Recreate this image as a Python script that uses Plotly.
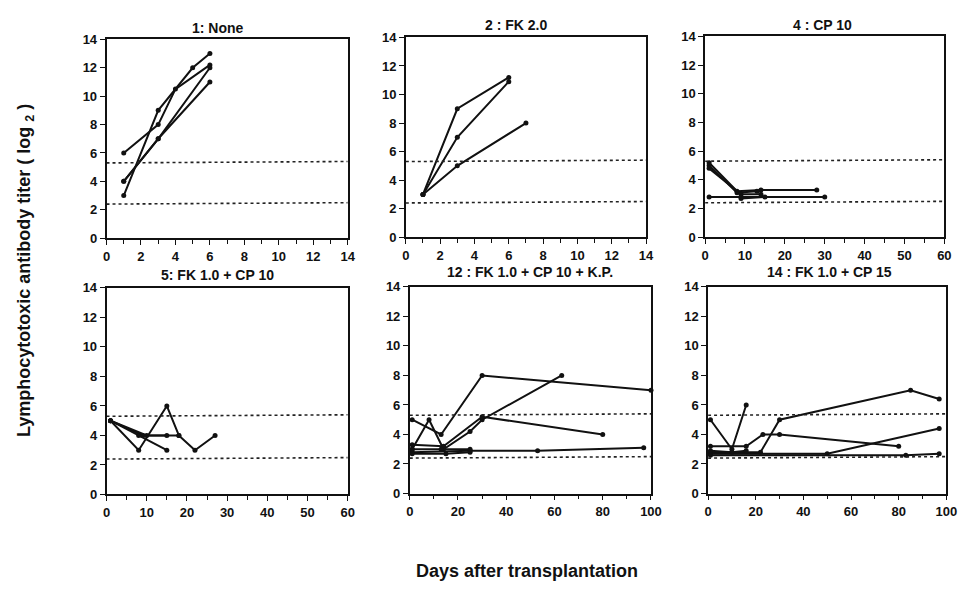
import plotly.graph_objects as go

W, H = 971, 590
OFF = 8  # page body margin offset

titles = ["1: None", "2 : FK 2.0", "4 : CP 10",
          "5: FK 1.0 + CP 10", "12 : FK 1.0 + CP 10 + K.P.", "14 : FK 1.0 + CP 15"]

# panel data: list of series (days, titer)
p1 = [([1, 3, 5, 6], [3, 9, 12, 13]),
      ([1, 3, 4, 6], [6, 8, 10.5, 12.2]),
      ([1, 3, 6], [4, 7, 12]),
      ([1, 3, 6], [4, 7, 11])]
p2 = [([1, 3, 6], [3, 9, 11.2]),
      ([1, 3, 6], [3, 7, 10.9]),
      ([1, 3, 7], [3, 5, 8])]
p3 = [([1, 8, 14, 28], [5.2, 3.2, 3.3, 3.3]),
      ([1, 8, 13], [5.0, 3.1, 3.2]),
      ([1, 9, 14], [4.8, 3.0, 3.0]),
      ([1, 9, 30], [2.8, 2.8, 2.8]),
      ([9, 15], [2.7, 2.8])]
p4 = [([1, 8, 15, 18], [5, 3, 6, 4]),
      ([1, 9, 18, 22, 27], [5, 4, 4, 3, 4]),
      ([1, 8, 15], [5, 4, 3]),
      ([1, 10, 15], [5, 4, 4])]
p5 = [([1, 13, 30, 100], [5, 4, 8, 7]),
      ([1, 8, 14, 25, 30, 63], [3, 5, 3, 4.2, 5, 8]),
      ([1, 14, 30, 80], [3.3, 3.2, 5.2, 4]),
      ([1, 25, 53, 97], [2.8, 2.9, 2.9, 3.1]),
      ([1, 13, 25], [3.0, 3.0, 3.0]),
      ([1, 15, 25], [2.7, 2.7, 2.8])]
p6 = [([1, 10, 16], [5, 3, 6]),
      ([1, 16, 23, 30, 80], [3.2, 3.2, 4, 4, 3.2]),
      ([1, 22, 30, 85, 97], [2.8, 2.8, 5, 7, 6.4]),
      ([1, 50, 97], [2.7, 2.7, 4.4]),
      ([1, 83, 97], [2.6, 2.6, 2.7]),
      ([1, 10, 16], [2.9, 2.8, 2.9])]
panels = [p1, p2, p3, p4, p5, p6]

x_ranges = [(0, 14), (0, 14), (0, 60), (0, 60), (0, 100), (0, 100)]
x_dticks = [2, 2, 10, 10, 20, 20]
upper_ref = [5.3, 5.4]   # dotted reference line (start, end)
lower_ref = [2.4, 2.5]

# pixel boxes on screen (left, right, top, bottom)
boxes = [(104, 349, 33, 237), (408, 652, 31, 236), (712, 955, 30, 236),
         (104, 349, 288, 500), (412, 657, 287, 499), (715, 957, 287, 499)]
title_pos = [(217, 21), (520, 18), (831, 18), (217, 275), (534, 272), (838, 272)]


def px(x):
    return (x - OFF) / W


def py(y):
    return 1 - (y - OFF) / H


FONT = "Liberation Sans"
fig = go.Figure()
layout = {}
for i, (series, box) in enumerate(zip(panels, boxes)):
    n = "" if i == 0 else str(i + 1)
    xa, ya = "x" + n, "y" + n
    l, r, t, b = box
    x0, x1 = x_ranges[i]
    for xs, ys in series:
        fig.add_trace(go.Scatter(x=xs, y=ys, mode="lines+markers", xaxis=xa, yaxis=ya,
                                 line=dict(color="#111", width=2),
                                 marker=dict(color="#111", size=5), showlegend=False,
                                 cliponaxis=False))
    for ref in (upper_ref, lower_ref):
        fig.add_trace(go.Scatter(x=[x0, x1], y=ref, mode="lines", xaxis=xa, yaxis=ya,
                                 line=dict(color="#222", width=1.6, dash="dot"),
                                 showlegend=False, hoverinfo="skip"))
    common = dict(showline=True, linecolor="#111", linewidth=1.6, mirror=True,
                  ticks="outside", ticklen=5, tickwidth=1.4, tickcolor="#111",
                  showgrid=False, zeroline=False,
                  tickfont=dict(family=FONT, size=13, color="#111", weight="bold"))
    layout["xaxis" + n] = dict(common, domain=[px(l), px(r)], range=[x0, x1],
                               dtick=x_dticks[i], anchor=ya,
                               minor=dict(dtick=x_dticks[i] / 2, ticks="outside",
                                          ticklen=4, tickcolor="#111", tickwidth=1.2))
    layout["yaxis" + n] = dict(common, domain=[py(b), py(t)], range=[0, 14],
                               dtick=2, anchor=xa)
    tx, ty = title_pos[i]
    fig.add_annotation(x=px(tx), y=py(ty), xref="paper", yref="paper",
                       xanchor="center", yanchor="middle",
                       text="<b>" + titles[i] + "</b>", showarrow=False,
                       font=dict(family=FONT, size=14, color="#111"))

fig.add_annotation(x=px(531), y=py(578), xref="paper", yref="paper",
                   xanchor="center", yanchor="middle",
                   text="<b>Days after transplantation</b>", showarrow=False,
                   font=dict(family=FONT, size=18, color="#111"))
fig.add_annotation(x=px(22), y=py(270), xref="paper", yref="paper", textangle=-90,
                   xanchor="center", yanchor="middle",
                   text="<b>Lymphocytotoxic antibody titer ( log <sub>2</sub> )</b>",
                   showarrow=False,
                   font=dict(family=FONT, size=18, color="#111"))

fig.update_layout(width=W, height=H, margin=dict(l=0, r=0, t=0, b=0),
                  paper_bgcolor="white", plot_bgcolor="white", **layout)
fig.write_html("out.html")
